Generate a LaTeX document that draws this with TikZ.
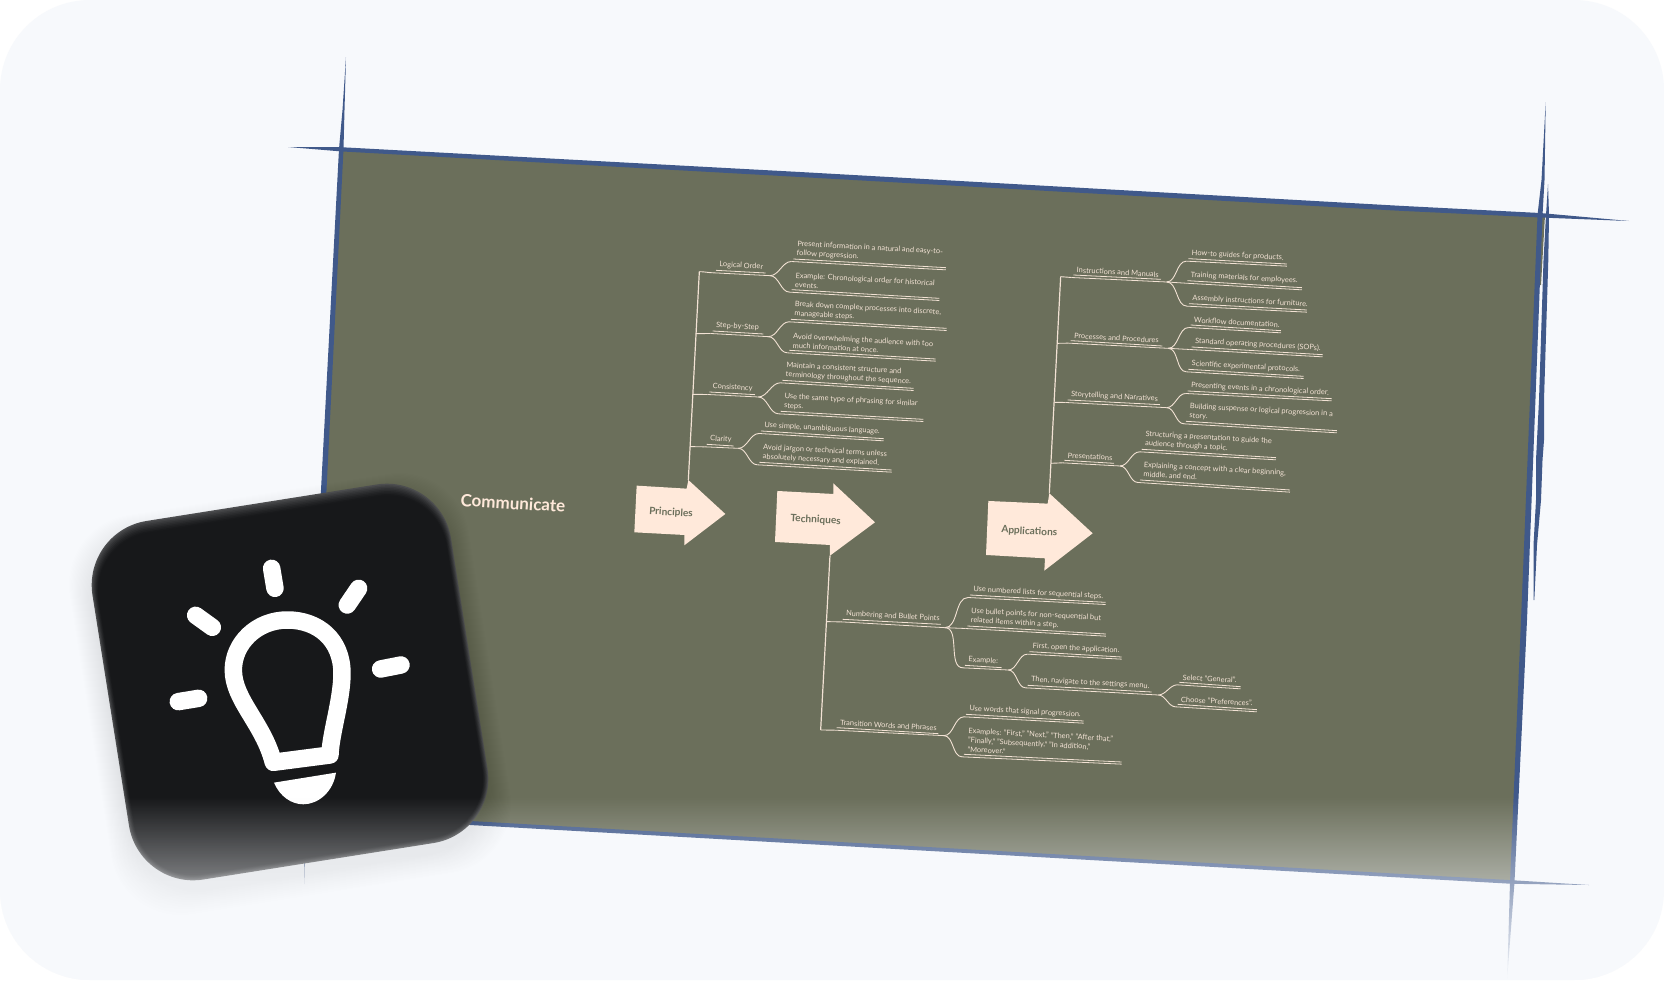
\documentclass[tikz,border=0pt]{standalone}
\usepackage{fontspec}
\setmainfont{Lato}
\usetikzlibrary{fadings,calc}
\definecolor{bgc}{HTML}{F7F9FC}
\definecolor{board}{HTML}{6B6F5B}
\definecolor{edge}{HTML}{40598A}
\definecolor{peach}{HTML}{FFE9DA}
\definecolor{mmink}{HTML}{F2E2D4}
\definecolor{iconblack}{HTML}{17181A}
\definecolor{iconedge}{HTML}{4C4D4F}
\tikzfading[name=fadeup, top color=transparent!100, bottom color=transparent!0]
\tikzset{
  mmtext/.style={rotate=-3.2,anchor=south west,inner xsep=3pt,inner ysep=2.2pt,align=left,text=mmink,font=\fontsize{7.45}{9.3}\selectfont},
  mmline/.style={draw=mmink,line width=.8pt},
  wire/.style={draw=mmink,line width=.9pt},
  trunkline/.style={draw=mmink,line width=1.2pt},
  arrowshape/.style={fill=peach},
  arrowtext/.style={rotate=-3.2,text=board,font=\fontsize{10.1}{12}\selectfont\bfseries},
  stroke/.style={fill=edge},
  zoomA/.style={shift={(620pt,-220pt)},x=.3333pt,y=-.3333pt},
  zoomB/.style={shift={(960pt,-220pt)},x=.3333pt,y=-.3333pt},
  zoomC/.style={shift={(760pt,-560pt)},x=.3333pt,y=-.3333pt},
  zoomD/.style={shift={(70pt,-470pt)},x=.3333pt,y=-.3333pt},
  ray/.style={draw=white,line width=18pt*.97,line cap=round},
}
% name, upper-line start, upper-line end, lower-end offset, text
\newcommand{\mmitem}[7][0,6.5]{%
  \coordinate (#2s) at (#3,#4);
  \coordinate (#2e) at (#5,#6);
  \coordinate (#2l) at ([shift={(-6,7.5)}]#2s);
  \coordinate (#2f) at ([shift={(#1)}]#2e);
  \node[mmtext] (#2) at (#2s) {#7};
  \draw[mmline] (#2s) -- (#2e);
  \draw[mmline] (#2l) -- (#2f);
}
\newcommand{\mmconn}[2]{\draw[wire] (#1) to[out=0,in=180,looseness=.9] (#2l);}
\begin{document}
\begin{tikzpicture}[x=1pt,y=-1pt]
\useasboundingbox (0,0) rectangle (1664,980);
\fill[white] (0,0) rectangle (1664,980);
\fill[bgc,rounded corners=90pt] (0,0) rectangle (1664,980);

% board
\fill[board] (341,149) -- (1540,215) -- (1512,882) -- (305,814) -- cycle;
\fill[board] (1540,215) -- (1545,215) -- (1541,285) -- (1537,285) -- cycle;
% hand-drawn strokes
\fill[stroke] (288,147) -- (341,147.2) -- (800,172) -- (1400,205.8) -- (1540,213) -- (1629,221) -- (1540,217.5) -- (1400,210.8) -- (800,177) -- (341,151.4) -- cycle;
\fill[stroke] (346,57) -- (344.5,110) -- (343.5,149) -- (326.5,490) -- (307.5,814) -- (304.8,860) -- (304.6,884) -- (304.2,860) -- (303,814) -- (321,490) -- (339,149) -- (342.5,110) -- cycle;
\fill[stroke] (1545.7,102) -- (1544.5,180) -- (1542.5,215) -- (1527,620) -- (1514.5,882) -- (1507.2,978) -- (1510,882) -- (1521,620) -- (1537.5,215) -- (1541.5,180) -- cycle;
\fill[stroke] (1548,184) -- (1549,215) -- (1548.3,260) -- (1544,400) -- (1544,440) -- (1542.5,460) -- (1541,500) -- (1537,545) -- (1534.3,600) -- (1533.5,600) -- (1533.5,545) -- (1536,500) -- (1536,460) -- (1539,400) -- (1543.5,260) -- (1546,215) -- cycle;
\fill[stroke] (305,812) -- (470,821) -- (1512,880.2) -- (1589,885) -- (1512,883.8) -- (470,825) -- (305,816) -- cycle;

\node[rotate=-3.4,text=peach,font=\fontsize{17}{19}\selectfont\bfseries] (title) at (513,503) {Communicate};

% Principles
\begin{scope}[zoomA]
\fill[arrowshape] (50,797) -- (200,806) -- (205,780) -- (316,882) -- (193,976) -- (193,945) -- (43,937) -- cycle;
\node[arrowtext] (principles) at (153,878) {Principles};
\coordinate (ptop) at (205,780);
\coordinate (pbot) at (238,155);
\coordinate (p2) at (228,341);
\coordinate (p3) at (218,523);
\coordinate (p4) at (210,680);
\draw[trunkline] (ptop) -- (pbot);
\mmitem[13,8]{lo}{288}{151}{437}{159}{Logical Order}
\mmitem{a1}{520}{117}{978}{143}{Present information in a natural and easy-to-\\follow progression.}
\mmitem{a2}{515}{209}{958}{235}{Example: Chronological order for historical\\events.}
\mmitem[15,8]{st}{278}{333}{430}{342}{Step-by-Step}
\mmitem{b1}{513}{298}{980}{325}{Break down complex processes into discrete,\\manageable steps.}
\mmitem{b2}{508}{391}{947}{417}{Avoid overwhelming the audience with too\\much information at once.}
\mmitem[10,7]{co}{268}{516}{405}{524}{Consistency}
\mmitem{c1}{487}{481}{881}{505}{Maintain a consistent structure and\\terminology throughout the sequence.}
\mmitem{c2}{482}{574}{910}{598}{Use the same type of phrasing for similar\\steps.}
\mmitem[14,7]{cl}{260}{673}{341}{678}{Clarity}
\mmitem{d1}{423}{633}{791}{656}{Use simple, unambiguous language.}
\mmitem{d2}{418}{727}{815}{750}{Avoid jargon or technical terms unless\\absolutely necessary and explained.}
\mmconn{pbot}{lo}\mmconn{p2}{st}\mmconn{p3}{co}\mmconn{p4}{cl}
\mmconn{lof}{a1}\mmconn{lof}{a2}\mmconn{stf}{b1}\mmconn{stf}{b2}
\mmconn{cof}{c1}\mmconn{cof}{c2}\mmconn{clf}{d1}\mmconn{clf}{d2}
% Techniques arrow
\fill[arrowshape] (472,813) -- (640,822) -- (640,790) -- (765,907) -- (630,1007) -- (630,975) -- (465,966) -- cycle;
\node[arrowtext] (techniques) at (587,900) {Techniques};
\coordinate (tbot) at (630,1007);
\end{scope}

% Applications
\begin{scope}[zoomB]
\fill[arrowshape] (85,843) -- (263,851) -- (268,820) -- (398,940) -- (253,1052) -- (255,1015) -- (78,1005) -- cycle;
\node[arrowtext] (applications) at (208,935) {Applications};
\coordinate (atop) at (268,820);
\coordinate (abot) at (302,170);
\coordinate (a2p) at (292,370);
\coordinate (a3p) at (283,547);
\coordinate (a4p) at (273,730);
\draw[trunkline] (atop) -- (abot);
\mmitem[17,8]{im}{340}{165}{603}{178}{Instructions and Manuals}
\mmitem{e1}{685}{116}{981}{132}{How-to guides for products.}
\mmitem{e2}{682}{182}{1026}{203}{Training materials for employees.}
\mmitem{e3}{687}{251}{1041}{270}{Assembly instructions for furniture.}
\mmitem[18,7]{pp}{332}{362}{607}{378}{Processes and Procedures}
\mmitem{f1}{692}{315}{963}{332}{Workflow documentation.}
\mmitem{f2}{695}{381}{1088}{404}{Standard operating procedures (SOPs).}
\mmitem{f3}{685}{448}{1031}{469}{Scientific experimental protocols.}
\mmitem[20,9]{sn}{323}{540}{600}{554}{Storytelling and Narratives}
\mmitem{g1}{683}{513}{1115}{536}{Presenting events in a chronological order.}
\mmitem{g2}{678}{604}{1131}{632}{Building suspense or logical progression in a\\story.}
\mmitem[18,8]{pr}{313}{721}{462}{730}{Presentations}
\mmitem{h1}{545}{688}{948}{713}{Structuring a presentation to guide the\\audience through a topic.}
\mmitem{h2}{540}{780}{990}{810}{Explaining a concept with a clear beginning,\\middle, and end.}
\mmconn{abot}{im}\mmconn{a2p}{pp}\mmconn{a3p}{sn}\mmconn{a4p}{pr}
\mmconn{imf}{e1}\draw[mmline] (imf) -- (e2l);\mmconn{imf}{e3}
\mmconn{ppf}{f1}\draw[mmline] (ppf) -- (f2l);\mmconn{ppf}{f3}
\mmconn{snf}{g1}\mmconn{snf}{g2}
\mmconn{prf}{h1}\mmconn{prf}{h2}
\end{scope}

% Techniques subtree
\begin{scope}[zoomC]
\coordinate (t1) at (200,185);
\coordinate (t2) at (182,510);
\draw[trunkline,line join=round] (tbot) -- (t2);
\mmitem[12,10]{nb}{248}{178}{543}{193}{Numbering and Bullet Points}
\mmitem{i1}{630}{105}{1037}{127}{Use numbered lists for sequential steps.}
\mmitem{i2}{622}{198}{1038}{222}{Use bullet points for non-sequential but\\related items within a step.}
\mmitem[20,7]{ex}{615}{316}{725}{323}{Example:}
\mmitem{j1}{808}{275}{1085}{291}{First, open the application.}
\mmitem[20,9]{j2}{803}{376}{1175}{396}{Then, navigate to the settings menu.}
\mmitem{k1}{1258}{367}{1442}{380}{Select "General".}
\mmitem{k2}{1253}{433}{1491}{449}{Choose "Preferences".}
\mmitem[17,6]{tw}{230}{503}{535}{521}{Transition Words and Phrases}
\mmitem{l1}{618}{463}{971}{483}{Use words that signal progression.}
\mmitem{l2}{612}{583}{1085}{606}{Examples: "First," "Next," "Then," "After that,"\\"Finally," "Subsequently," "In addition,"\\"Moreover."}
\mmconn{t1}{nb}\mmconn{t2}{tw}
\mmconn{nbf}{i1}\draw[mmline] (nbf) -- (i2l);
\draw[wire] (nbf) to[out=0,in=180,looseness=.9] (exl);
\mmconn{exf}{j1}\mmconn{exf}{j2}
\mmconn{j2f}{k1}\mmconn{j2f}{k2}
\mmconn{twf}{l1}\mmconn{twf}{l2}
\end{scope}

% icon shadow
\begin{scope}[shift={(290pt,-694pt)},rotate=9]
\foreach \i in {1,...,22}{
  \fill[black,opacity=.0022,rounded corners=70pt] (-180pt-\i pt,-180pt-\i pt) rectangle (180pt+\i pt,180pt+\i pt);
}
\end{scope}
% icon body
\begin{scope}[shift={(290pt,-682pt)},rotate=9]
\foreach \i in {0,...,8}{
  \pgfmathsetmacro{\p}{100*(1-\i/8)^1.5}
  \pgfmathsetmacro{\ins}{\i*.7}
  \pgfmathsetmacro{\dn}{\i*.8}
  \pgfmathsetmacro{\rad}{65-\ins}
  \fill[iconedge!\p!iconblack,rounded corners=\rad pt]
    (-181.5pt+\ins pt,-181.5pt+\ins pt) rectangle (181.5pt-\ins pt,181.5pt-\ins pt-\dn pt);
}
\end{scope}
% bulb
\begin{scope}[zoomD]
\draw[white,line width=17.5pt,line join=round] (610,877) -- (780,855)
  .. controls (782,790) and (816,690) .. (816,610)
  .. controls (816,510) and (745,450) .. (652,450)
  .. controls (560,450) and (490,520) .. (490,600)
  .. controls (490,690) and (580,760) .. (610,877) -- cycle;
\fill[white] (612,938) -- (798,908) .. controls (790,965) and (745,1003) .. (700,1003)
  .. controls (665,1003) and (630,980) .. (612,938) -- cycle;
\draw[ray] (605,295) -- (615,355);
\draw[ray] (866,355) -- (832,405);
\draw[ray] (377,436) -- (427,472);
\draw[ray] (932,597) -- (993,585);
\draw[ray] (325,695) -- (386,685);
\end{scope}

% fade at the bottom of the picture
\begin{scope}
\clip[rounded corners=90pt] (0,0) rectangle (1664,980);
\fill[bgc,path fading=fadeup] (0,797) rectangle (1664,982);
\end{scope}
\end{tikzpicture}
\end{document}
